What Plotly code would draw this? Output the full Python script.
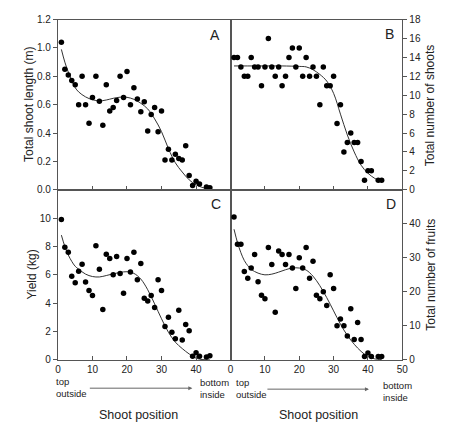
import plotly.graph_objects as go

W, H = 474, 440

# ---------------- data ----------------
pos = [1, 2, 3, 4, 5, 6, 7, 8, 9, 10, 11, 12, 13, 14, 15, 16, 17, 18, 19, 20, 21, 22,
       23, 24, 25, 26, 27, 28, 29, 30, 31, 32, 33, 34, 35, 36, 37, 38, 39, 40, 41, 43, 44]

shoot_length = [1.04, 0.85, 0.81, 0.77, 0.74, 0.60, 0.80, 0.60, 0.47, 0.65, 0.80, 0.625,
                0.455, 0.74, 0.555, 0.58, 0.63, 0.80, 0.65, 0.835, 0.60, 0.72, 0.64, 0.55,
                0.62, 0.415, 0.53, 0.58, 0.41, 0.555, 0.21, 0.285, 0.21, 0.25, 0.22, 0.21,
                0.31, 0.10, 0.03, 0.06, 0.04, 0.02, 0.014]

n_shoots = [14, 14, 13, 12, 12, 14, 13, 13, 11, 13, 16, 13, 12, 13, 11, 12, 14, 15, 13, 15,
            12, 14, 12, 13, 12, 9, 13, 11, 11, 12, 7, 9, 4, 5, 6, 5, 5, 3, 1, 2, 2, 1, 1]

yield_kg = [9.9, 7.95, 7.6, 5.9, 5.45, 6.25, 6.75, 5.5, 4.9, 4.55, 8.05, 6.4, 3.55, 7.45,
            7.15, 6.0, 7.3, 6.1, 4.7, 7.15, 6.2, 7.6, 5.65, 6.8, 4.35, 4.15, 4.55, 3.7,
            5.65, 4.9, 2.35, 3.0, 1.95, 1.5, 3.5, 1.4, 2.5, 2.05, 0.25, 0.5, 0.25, 0.2, 0.3]

n_fruits = [42, 34, 34, 26, 24, 27, 31, 23, 19, 18, 33, 28, 14, 32, 31, 28, 31, 27, 21, 30,
            27, 33, 24, 29, 19, 18, 20, 16, 25, 21, 10, 12, 10, 7, 15, 6, 11, 6, 1, 2, 1, 1, 1]

# fitted curves
fit_x_a = [1, 2, 3, 4, 5, 6, 8, 10, 12, 14, 16, 18, 20, 22, 24, 26, 28, 30, 32, 34, 36, 38, 40, 42, 44]
fit_a = [0.99, 0.90, 0.83, 0.77, 0.72, 0.69, 0.655, 0.635, 0.627, 0.633, 0.645, 0.653, 0.652,
         0.638, 0.61, 0.57, 0.50, 0.41, 0.29, 0.19, 0.125, 0.07, 0.035, 0.015, 0.005]

fit_x_b = [1, 5, 10, 15, 20, 22, 24, 26, 28, 30, 32, 34, 36, 38, 40, 42, 44]
fit_b = [13.1, 13.1, 13.1, 13.1, 13.05, 13.0, 12.7, 12.2, 11.5, 10.2, 8.0, 5.8, 4.0, 2.6, 1.75, 1.2, 0.85]

fit_x_c = [1, 2, 3, 4, 5, 6, 8, 10, 12, 14, 16, 18, 20, 22, 24, 26, 28, 30, 32, 34, 36, 38, 40, 42, 44]
fit_c = [8.8, 8.0, 7.4, 6.95, 6.6, 6.4, 6.05, 5.88, 5.85, 5.95, 6.07, 6.17, 6.22, 6.1, 5.7,
         4.95, 3.95, 2.9, 1.95, 1.25, 0.8, 0.42, 0.12, 0.02, 0.0]

fit_x_d = [1, 2, 3, 4, 5, 6, 8, 10, 12, 14, 16, 18, 20, 22, 24, 26, 28, 30, 32, 34, 36, 38, 40, 42, 44]
fit_d = [38.4, 34.5, 31.5, 29.2, 27.7, 26.6, 25.5, 25.0, 25.2, 25.8, 26.5, 27.0, 27.0, 26.4,
         24.6, 21.8, 18.3, 14.4, 10.5, 7.2, 4.6, 2.5, 1.0, 0.3, 0.1]

left_xticks = [0, 10, 20, 30, 40]
right_xticks = [0, 10, 20, 30, 40, 50]
a_ticks = [0.0, 0.2, 0.4, 0.6, 0.8, 1.0, 1.2]
b_ticks = [0, 2, 4, 6, 8, 10, 12, 14, 16, 18]
c_ticks = [0, 2, 4, 6, 8, 10]
d_ticks = [0, 10, 20, 30, 40]

# ---------------- layout helpers ----------------
def px(x):
    return x / W

def py(y):
    return 1 - y / H

L, M, R = 56, 232, 407
T, MID, B = 15, 189.5, 364

FONT = "Liberation Sans, Arial, sans-serif"
AXC = "#555555"
fig = go.Figure()

panels = [
    ("x", "y", shoot_length, fit_x_a, fit_a),
    ("x2", "y2", n_shoots, fit_x_b, fit_b),
    ("x3", "y3", yield_kg, fit_x_c, fit_c),
    ("x4", "y4", n_fruits, fit_x_d, fit_d),
]
for xa, ya, vals, fx, fy in panels:
    fig.add_trace(go.Scatter(x=fx, y=fy, mode="lines", xaxis=xa, yaxis=ya,
                             line=dict(color="#333333", width=1, shape="spline", smoothing=1.0),
                             hoverinfo="skip", showlegend=False))
    fig.add_trace(go.Scatter(x=pos, y=vals, mode="markers", xaxis=xa, yaxis=ya,
                             marker=dict(color="black", size=5.5), showlegend=False))

common_x = dict(range=[0, 50], showline=True, linecolor=AXC, linewidth=1.2, mirror=True,
                showgrid=False, zeroline=False, ticks="inside", ticklen=4, tickcolor=AXC,
                tickfont=dict(family=FONT, size=10, color="#222"))
common_y = dict(showline=True, linecolor=AXC, linewidth=1.2, mirror=True, showgrid=False,
                zeroline=False, ticks="outside", ticklen=4, tickcolor=AXC,
                tickfont=dict(family=FONT, size=10, color="#222"))

fig.update_layout(
    width=W, height=H, margin=dict(l=0, r=0, t=0, b=0),
    paper_bgcolor="white", plot_bgcolor="white",
    xaxis=dict(common_x, domain=[px(L), px(M)], anchor="y", tickvals=[10, 20, 30, 40], showticklabels=False),
    yaxis=dict(common_y, domain=[py(MID), py(T)], anchor="x", range=[0, 1.2], tickvals=a_ticks,
               tickformat=".1f"),
    xaxis2=dict(common_x, domain=[px(M), px(R)], anchor="y2", tickvals=[10, 20, 30, 40], showticklabels=False),
    yaxis2=dict(common_y, domain=[py(MID), py(T)], anchor="x2", side="right", range=[0, 18], tickvals=b_ticks),
    xaxis3=dict(common_x, domain=[px(L), px(M)], anchor="y3", tickvals=left_xticks),
    yaxis3=dict(common_y, domain=[py(B), py(MID)], anchor="x3", range=[0, 12], tickvals=c_ticks),
    xaxis4=dict(common_x, domain=[px(M), px(R)], anchor="y4", tickvals=right_xticks),
    yaxis4=dict(common_y, domain=[py(B), py(MID)], anchor="x4", side="right", range=[0, 50], tickvals=d_ticks),
)

ann = []
def text(x, y, s, size=10, angle=0, xanchor="center", align="center"):
    ann.append(dict(x=px(x), y=py(y), xref="paper", yref="paper", text=s, showarrow=False,
                    textangle=angle, xanchor=xanchor, yanchor="middle", align=align,
                    font=dict(family=FONT, size=size, color="#222")))

text(216, 31, "A", 14)
text(394, 30, "B", 14)
text(217, 204, "C", 14)
text(395, 204, "D", 14)
text(27, 102, "Total shoot length (m)", 12, -90)
text(30, 276, "Yield (kg)", 12, -90)
text(436, 103, "Total number of shoots", 12, -90)
text(436, 277, "Total number of fruits", 12, -90)
text(52, 392, "top<br>outside", 9.5, xanchor="left", align="left")
text(199, 393, "bottom<br>inside", 9.5, xanchor="left", align="left")
text(235, 393, "top<br>outside", 9.5, xanchor="left", align="left")
text(385, 396, "bottom<br>inside", 9.5, xanchor="left", align="left")
text(138, 421, "Shoot position", 12.5)
text(322, 421, "Shoot position", 12.5)

for x0, x1, yy in [(89, 193, 393), (270, 373, 394)]:
    ann.append(dict(x=px(x1), y=py(yy), ax=-(x1 - x0), ay=0, xref="paper", yref="paper",
                    axref="pixel", ayref="pixel", showarrow=True, arrowhead=2, arrowsize=0.8,
                    arrowwidth=1, arrowcolor="#666", text=""))
fig.update_layout(annotations=ann)

fig.write_html("out.html", config={"displayModeBar": False},
               post_script="document.body.style.margin='0';document.body.style.overflow='hidden';")
